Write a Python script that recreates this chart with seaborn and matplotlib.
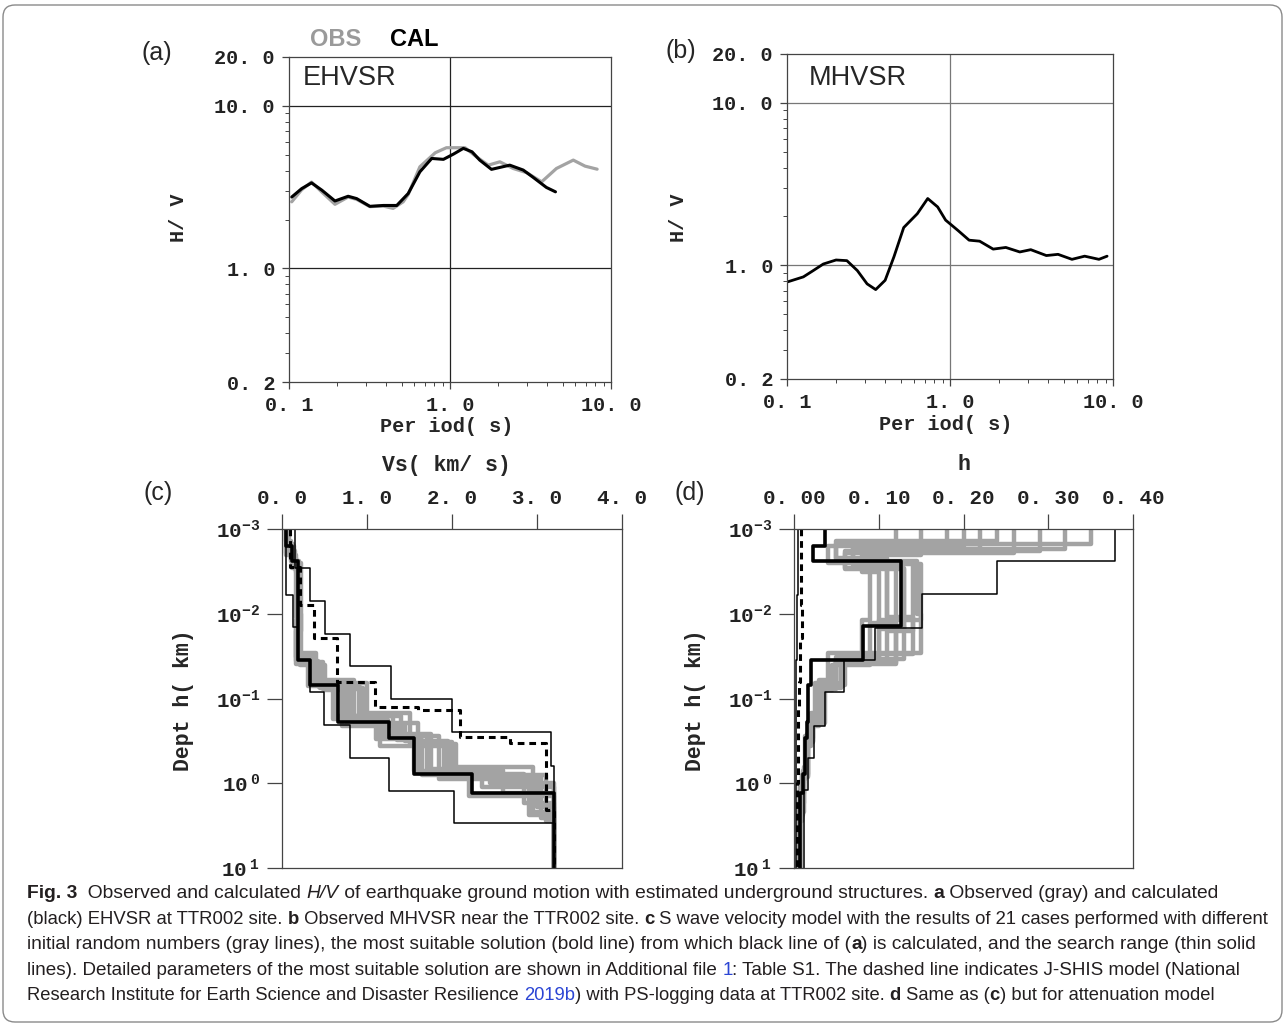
import numpy as np
import pandas as pd
import matplotlib
matplotlib.use("Agg")
import matplotlib.pyplot as plt
import seaborn as sns
from matplotlib.patches import FancyBboxPatch
from matplotlib.ticker import FixedLocator, LogLocator, NullFormatter, NullLocator

W, H = 1285, 1027

# (a) EHVSR, observed (gray) and calculated (black)
obs_period = [0.104, 0.12, 0.138, 0.16, 0.193, 0.233, 0.263, 0.318, 0.385, 0.443, 0.512, 0.55,
              0.65, 0.81, 0.95, 1.24, 1.46, 1.73, 2.04, 2.47, 3.0, 3.71, 4.58, 5.83, 6.9, 8.2]
obs_hv = [2.57, 3.05, 3.4, 2.95, 2.48, 2.75, 2.66, 2.4, 2.42, 2.34, 2.57, 2.85,
          4.22, 5.15, 5.53, 5.53, 4.86, 4.32, 4.53, 4.12, 3.88, 3.41, 4.12, 4.64, 4.26, 4.08]
cal_period = [0.104, 0.12, 0.138, 0.16, 0.193, 0.233, 0.263, 0.318, 0.385, 0.467, 0.55, 0.65,
              0.77, 0.91, 1.05, 1.21, 1.37, 1.53, 1.81, 2.35, 2.85, 3.29, 3.97, 4.52]
cal_hv = [2.75, 3.1, 3.36, 3.03, 2.6, 2.78, 2.69, 2.41, 2.44, 2.44, 2.89, 3.93,
          4.75, 4.69, 5.05, 5.48, 5.22, 4.64, 4.07, 4.32, 4.03, 3.63, 3.15, 2.96]

# (b) MHVSR
mh_period = [0.10, 0.126, 0.145, 0.167, 0.2, 0.233, 0.27, 0.31, 0.35, 0.40, 0.453, 0.52, 0.63,
             0.73, 0.84, 0.94, 1.12, 1.31, 1.52, 1.84, 2.2, 2.68, 3.13, 3.9, 4.6, 5.6, 6.7, 8.2, 9.2]
mh_hv = [0.79, 0.85, 0.93, 1.02, 1.08, 1.07, 0.93, 0.77, 0.71, 0.81, 1.13, 1.71, 2.08,
         2.58, 2.29, 1.90, 1.64, 1.43, 1.41, 1.26, 1.29, 1.21, 1.25, 1.15, 1.17, 1.09, 1.14, 1.09, 1.14]

# (c)(d) most suitable solution (bold): layer top depth (km), Vs (km/s), h
best_top = [0.001, 0.0016, 0.0024, 0.014, 0.035, 0.069, 0.188, 0.295, 0.78, 1.29]
best_vs = [0.05, 0.12, 0.19, 0.19, 0.33, 0.66, 1.26, 1.55, 2.24, 3.2]
best_h = [0.037, 0.023, 0.126, 0.081, 0.020, 0.016, 0.015, 0.013, 0.011, 0.007]

# search range (thin lines)
vs_min_top = [0.001, 0.006, 0.0142, 0.035, 0.083, 0.206, 0.5, 1.23, 2.97]
vs_min = [0.047, 0.133, 0.19, 0.33, 0.494, 0.8, 1.26, 2.02, 3.2]
vs_max_top = [0.001, 0.0029, 0.0071, 0.0175, 0.0414, 0.102, 0.247, 0.621]
vs_max = [0.15, 0.33, 0.506, 0.8, 1.28, 2.0, 3.16, 3.2]
h_max_top = [0.001, 0.0024, 0.0059, 0.0146, 0.0351, 0.083, 0.209, 0.508, 1.2]
h_max = [0.379, 0.239, 0.151, 0.095, 0.059, 0.037, 0.024, 0.016, 0.012]
h_min_top = [0.001, 0.006, 0.0142, 0.035]
h_min = [0.005, 0.004, 0.003, 0.002]

# J-SHIS model (dashed)
js_vs_top = [0.001, 0.0028, 0.0079, 0.0195, 0.0634, 0.125, 0.137, 0.287, 0.338, 2.07]
js_vs = [0.09, 0.21, 0.38, 0.65, 1.09, 1.6, 2.09, 2.68, 3.11, 3.2]
js_h_top = [0.001, 0.0028, 0.0079, 0.0195, 0.0634, 0.125, 0.287, 1.0]
js_h = [0.008, 0.008, 0.009, 0.007, 0.006, 0.005, 0.005, 0.004]

# results of the other inversion cases (gray)
gray_tops = [
    [0.001, 0.0015, 0.0026, 0.012, 0.032, 0.060, 0.160, 0.260, 0.700, 1.30],
    [0.001, 0.0018, 0.0030, 0.015, 0.038, 0.075, 0.200, 0.320, 0.820, 2.60],
    [0.001, 0.0014, 0.0022, 0.011, 0.030, 0.070, 0.175, 0.300, 0.750, 1.10],
    [0.001, 0.0017, 0.0028, 0.013, 0.040, 0.080, 0.190, 0.280, 0.900, 1.90],
    [0.001, 0.0016, 0.0025, 0.016, 0.036, 0.065, 0.150, 0.340, 0.650, 2.20],
    [0.001, 0.0020, 0.0032, 0.014, 0.034, 0.072, 0.210, 0.310, 0.800, 2.80],
    [0.001, 0.0015, 0.0024, 0.010, 0.029, 0.068, 0.180, 0.290, 0.720, 1.40],
    [0.001, 0.0017, 0.0027, 0.012, 0.037, 0.078, 0.170, 0.360, 0.850, 2.40],
    [0.001, 0.0019, 0.0029, 0.015, 0.033, 0.066, 0.160, 0.270, 0.680, 1.00],
    [0.001, 0.0016, 0.0026, 0.013, 0.039, 0.074, 0.195, 0.330, 0.780, 1.70],
]
gray_vs = [
    [0.07, 0.13, 0.20, 0.17, 0.38, 0.85, 1.30, 1.75, 2.60, 3.2],
    [0.06, 0.15, 0.21, 0.19, 0.45, 0.95, 1.45, 1.95, 3.05, 3.2],
    [0.05, 0.11, 0.17, 0.20, 0.35, 0.60, 1.10, 1.60, 2.35, 3.2],
    [0.08, 0.14, 0.19, 0.21, 0.50, 0.75, 1.20, 1.85, 3.00, 3.2],
    [0.06, 0.12, 0.22, 0.16, 0.42, 1.00, 1.50, 2.05, 2.95, 3.2],
    [0.05, 0.16, 0.18, 0.19, 0.30, 0.70, 1.35, 1.65, 3.10, 3.2],
    [0.07, 0.10, 0.20, 0.22, 0.40, 0.80, 1.25, 1.55, 2.20, 3.2],
    [0.06, 0.13, 0.19, 0.18, 0.48, 0.90, 1.15, 1.90, 2.90, 3.2],
    [0.05, 0.12, 0.21, 0.20, 0.36, 0.65, 1.40, 1.70, 2.45, 3.2],
    [0.07, 0.14, 0.18, 0.17, 0.44, 0.92, 1.60, 2.00, 2.85, 3.2],
]
gray_h = [
    [0.35, 0.09, 0.15, 0.10, 0.050, 0.030, 0.020, 0.015, 0.012, 0.007],
    [0.29, 0.06, 0.13, 0.12, 0.055, 0.035, 0.022, 0.016, 0.010, 0.007],
    [0.24, 0.05, 0.11, 0.14, 0.060, 0.028, 0.018, 0.014, 0.011, 0.007],
    [0.22, 0.07, 0.12, 0.09, 0.045, 0.032, 0.021, 0.013, 0.009, 0.006],
    [0.20, 0.04, 0.14, 0.11, 0.050, 0.025, 0.020, 0.015, 0.012, 0.007],
    [0.15, 0.08, 0.10, 0.13, 0.058, 0.030, 0.019, 0.015, 0.010, 0.006],
    [0.12, 0.05, 0.145, 0.15, 0.040, 0.030, 0.022, 0.014, 0.011, 0.007],
    [0.32, 0.10, 0.09, 0.08, 0.050, 0.033, 0.020, 0.016, 0.011, 0.006],
    [0.26, 0.06, 0.13, 0.10, 0.055, 0.028, 0.021, 0.015, 0.012, 0.007],
    [0.18, 0.07, 0.11, 0.12, 0.048, 0.036, 0.023, 0.017, 0.012, 0.006],
]

period_ticks = [0.1, 1, 10]
period_labels = ["0. 1", "1. 0", "10. 0"]
hv_ticks = [0.2, 1, 10, 20]
hv_labels = ["0. 2", "1. 0", "10. 0", "20. 0"]
depth_ticks = [1e-3, 1e-2, 1e-1, 1, 10]
depth_labels = [r"$10^{-3}$", r"$10^{-2}$", r"$10^{-1}$", r"$10^{\ 0}$", r"$10^{\ 1}$"]
vs_ticks = [0, 1, 2, 3, 4]
vs_labels = ["0. 0", "1. 0", "2. 0", "3. 0", "4. 0"]
h_ticks = [0, 0.1, 0.2, 0.3, 0.4]
h_labels = ["0. 00", "0. 10", "0. 20", "0. 30", "0. 40"]

GRAY = "#a3a3a3"
MONO = "Liberation Mono"
SANS = "Liberation Sans"

sns.set_theme(style="ticks")
plt.rcParams.update({
    "font.family": [MONO, "DejaVu Sans"],
    "font.weight": "bold",
    "mathtext.fontset": "custom",
    "mathtext.rm": "Liberation Mono:bold",
    "mathtext.it": "Liberation Mono:bold",
    "mathtext.bf": "Liberation Mono:bold",
    "axes.edgecolor": "#444444",
    "axes.linewidth": 0.9,
    "xtick.color": "#444444",
    "ytick.color": "#444444",
    "xtick.labelcolor": "#222222",
    "ytick.labelcolor": "#222222",
})

fig = plt.figure(figsize=(W / 100, H / 100), dpi=100)


def px_box(l, t, r, b):
    return [l / W, 1 - b / H, (r - l) / W, (b - t) / H]


def ftext(x, y, s, **kw):
    return fig.text(x / W, 1 - y / H, s, **kw)


def steps(tops, vals, bottom=10.0):
    edges = list(tops) + [bottom]
    xs, ys = [], []
    for i, v in enumerate(vals):
        xs += [v, v]
        ys += [edges[i], edges[i + 1]]
    return xs, ys


def hv_axes(ax, grid_color):
    ax.axvline(1, color=grid_color, lw=0.9, zorder=0)
    ax.axhline(1, color=grid_color, lw=0.9, zorder=0)
    ax.axhline(10, color=grid_color, lw=0.9, zorder=0)
    ax.set_xlim(0.1, 10)
    ax.set_ylim(0.2, 20)
    ax.xaxis.set_major_locator(FixedLocator(period_ticks))
    ax.set_xticklabels(period_labels)
    ax.yaxis.set_major_locator(FixedLocator(hv_ticks))
    ax.set_yticklabels(hv_labels)
    ax.xaxis.set_minor_locator(LogLocator(subs=np.arange(2, 10)))
    ax.yaxis.set_minor_locator(LogLocator(subs=np.arange(2, 10)))
    ax.xaxis.set_minor_formatter(NullFormatter())
    ax.yaxis.set_minor_formatter(NullFormatter())
    ax.tick_params(which="major", length=5, width=0.9, pad=5, labelsize=14.5)
    ax.tick_params(which="minor", length=3, width=0.7)
    ax.set_xlabel("")
    ax.set_ylabel("")


def depth_axes(ax, xmax, ticks, labels):
    ax.set_ylim(10, 1e-3)
    ax.set_xlim(0, xmax)
    ax.yaxis.set_major_locator(FixedLocator(depth_ticks))
    ax.set_yticklabels(depth_labels)
    ax.yaxis.set_minor_locator(NullLocator())
    ax.xaxis.set_major_locator(FixedLocator(ticks))
    ax.set_xticklabels(labels)
    ax.xaxis.tick_top()
    ax.tick_params(axis="x", length=11, width=0.9, pad=4, labelsize=15)
    ax.tick_params(axis="y", length=11, width=0.9, pad=5, labelsize=15)
    ax.set_xlabel("")
    ax.set_ylabel("")


# ---- (a)
ax_a = fig.add_axes(px_box(289, 57, 611, 382))
ax_a.set_xscale("log")
ax_a.set_yscale("log")
sns.lineplot(x=obs_period, y=obs_hv, sort=False, estimator=None, color=GRAY, lw=2.3, ax=ax_a)
sns.lineplot(x=cal_period, y=cal_hv, sort=False, estimator=None, color="black", lw=2.2, ax=ax_a)
hv_axes(ax_a, "#222222")

# ---- (b)
ax_b = fig.add_axes(px_box(787, 54, 1113, 379))
ax_b.set_xscale("log")
ax_b.set_yscale("log")
sns.lineplot(x=mh_period, y=mh_hv, sort=False, estimator=None, color="black", lw=2.0, ax=ax_b)
hv_axes(ax_b, "#777777")

# ---- gray cases table
rows = []
for k, (t, v, hh) in enumerate(zip(gray_tops, gray_vs, gray_h)):
    xs, ys = steps(t, v)
    xh, _ = steps(t, hh)
    for i in range(len(xs)):
        rows.append((k, i, xs[i], xh[i], ys[i]))
gray = pd.DataFrame(rows, columns=["case", "idx", "vs", "h", "depth"])

# ---- (c)
ax_c = fig.add_axes(px_box(282, 529, 622, 868))
ax_c.set_yscale("log")
sns.lineplot(data=gray, x="vs", y="depth", units="case", estimator=None, sort=False,
             color=GRAY, lw=3.2, ax=ax_c, legend=False)
for tops, vals in [(vs_min_top, vs_min), (vs_max_top, vs_max)]:
    xs, ys = steps(tops, vals)
    sns.lineplot(x=xs, y=ys, sort=False, estimator=None, color="black", lw=1.1, ax=ax_c)
xs, ys = steps(js_vs_top, js_vs)
sns.lineplot(x=xs, y=ys, sort=False, estimator=None, color="black", lw=2.2,
             ax=ax_c).lines[-1].set_dashes((2.2, 1.6))
xs, ys = steps(best_top, best_vs)
sns.lineplot(x=xs, y=ys, sort=False, estimator=None, color="black", lw=2.6, ax=ax_c)
depth_axes(ax_c, 4.0, vs_ticks, vs_labels)

# ---- (d)
ax_d = fig.add_axes(px_box(794, 529, 1133, 868))
ax_d.set_yscale("log")
sns.lineplot(data=gray, x="h", y="depth", units="case", estimator=None, sort=False,
             color=GRAY, lw=3.2, ax=ax_d, legend=False)
for tops, vals in [(h_min_top, h_min), (h_max_top, h_max)]:
    xs, ys = steps(tops, vals)
    sns.lineplot(x=xs, y=ys, sort=False, estimator=None, color="black", lw=1.1, ax=ax_d)
xs, ys = steps(js_h_top, js_h)
sns.lineplot(x=xs, y=ys, sort=False, estimator=None, color="black", lw=2.2,
             ax=ax_d).lines[-1].set_dashes((2.2, 1.6))
xs, ys = steps(best_top, best_h)
sns.lineplot(x=xs, y=ys, sort=False, estimator=None, color="black", lw=2.6, ax=ax_d)
depth_axes(ax_d, 0.4, h_ticks, h_labels)

# ---- labels
for x, y, s in [(157, 53, "(a)"), (681, 51, "(b)"), (158, 493, "(c)"), (690, 493, "(d)")]:
    ftext(x, y, s, family=SANS, weight="normal", fontsize=18, ha="center", va="center")
ftext(336, 40, "OBS", family=SANS, weight="bold", color="#9a9a9a", fontsize=17, ha="center", va="center")
ftext(414, 40, "CAL", family=SANS, weight="bold", color="black", fontsize=17, ha="center", va="center")
ftext(303, 78, "EHVSR", family=SANS, weight="normal", fontsize=19.5, ha="left", va="center")
ftext(809, 78, "MHVSR", family=SANS, weight="normal", fontsize=19.5, ha="left", va="center")

ftext(447, 426, "Per iod( s)", fontsize=14.5, ha="center", va="center")
ftext(946, 425, "Per iod( s)", fontsize=14.5, ha="center", va="center")
ftext(178, 218, "H/ V", fontsize=14.5, rotation=90, ha="center", va="center")
ftext(679, 218, "H/ V", fontsize=14.5, rotation=90, ha="center", va="center")
ftext(446, 465, "Vs( km/ s)", fontsize=15.5, ha="center", va="center")
ftext(964, 465, "h", fontsize=15.5, ha="center", va="center")
ftext(184, 700, "Dept h( km)", fontsize=15.5, rotation=90, ha="center", va="center")
ftext(695, 700, "Dept h( km)", fontsize=15.5, rotation=90, ha="center", va="center")

# ---- caption
caption_lines = [
    [("Fig. 3", "b"), ("  Observed and calculated ", "n"), ("H/V", "i"),
     (" of earthquake ground motion with estimated underground structures. ", "n"),
     ("a", "b"), (" Observed (gray) and calculated", "n")],
    [("(black) EHVSR at TTR002 site. ", "n"), ("b", "b"), (" Observed MHVSR near the TTR002 site. ", "n"),
     ("c", "b"), (" S wave velocity model with the results of 21 cases performed with different", "n")],
    [("initial random numbers (gray lines), the most suitable solution (bold line) from which black line of (", "n"),
     ("a", "b"), (") is calculated, and the search range (thin solid", "n")],
    [("lines). Detailed parameters of the most suitable solution are shown in Additional file ", "n"),
     ("1", "l"), (": Table S1. The dashed line indicates J-SHIS model (National", "n")],
    [("Research Institute for Earth Science and Disaster Resilience ", "n"), ("2019b", "l"),
     (") with PS-logging data at TTR002 site. ", "n"), ("d", "b"), (" Same as (", "n"), ("c", "b"),
     (") but for attenuation model", "n")],
]
caption_y = [898, 924, 949, 975, 1000]
caption_end = [1222, 1275, 1266, 1249, 1216]
styles = {
    "n": dict(family=SANS, weight="normal", color="#231f20"),
    "b": dict(family=SANS, weight="bold", color="#231f20"),
    "i": dict(family=SANS, weight="normal", style="italic", color="#231f20"),
    "l": dict(family=SANS, weight="normal", color="#2b45d4"),
}
renderer = fig.canvas.get_renderer()


def draw_line(parts, y, size):
    arts, x = [], 27
    for s, st in parts:
        t = ftext(x, y, s, fontsize=size, ha="left", va="baseline", **styles[st])
        arts.append(t)
        x = t.get_window_extent(renderer).x1
    return arts, x


for parts, y, end in zip(caption_lines, caption_y, caption_end):
    arts, x = draw_line(parts, y, 12)
    for a in arts:
        a.remove()
    draw_line(parts, y, 12 * (end - 27) / (x - 27))

fig.add_artist(FancyBboxPatch((3, 5), 1279, 1017, boxstyle="round,pad=0,rounding_size=12",
                              transform=None, fill=False, edgecolor="#8a8a8a", lw=1.0))

fig.savefig("out.png", dpi=100)
